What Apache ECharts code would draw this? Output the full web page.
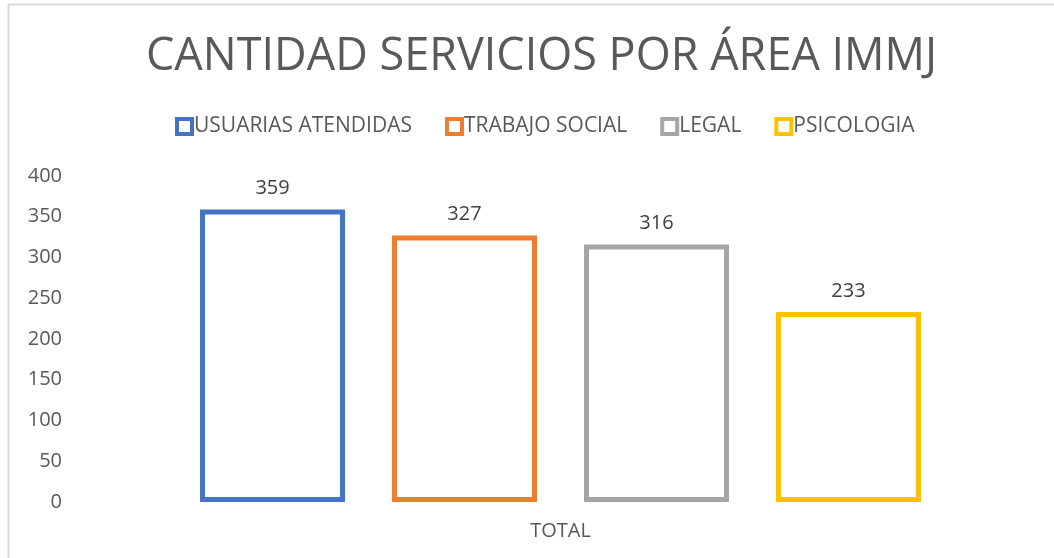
<!DOCTYPE html>
<html>
<head>
<meta charset="utf-8">
<script src="https://cdn.jsdelivr.net/npm/echarts@6/dist/echarts.min.js"></script>
<style>
  html, body { margin: 0; padding: 0; background: #fff; }
  #chart { width: 1054px; height: 558px; }
</style>
</head>
<body>
<div id="chart"></div>
<script>
const categories = ['TOTAL'];
const seriesNames = ['USUARIAS ATENDIDAS', 'TRABAJO SOCIAL', 'LEGAL', 'PSICOLOGIA'];
const seriesValues = [[359], [327], [316], [233]];
const colors = ['#4472C4', '#ED7D31', '#A5A5A5', '#FFC000'];

const font = '"Open Sans", "Noto Sans", sans-serif';
const myChart = echarts.init(document.getElementById('chart'));

const series = seriesNames.map((name, i) => ({
  name,
  type: 'bar',
  data: seriesValues[i],
  barWidth: 145,
  barGap: '32.4%',
  itemStyle: {
    color: '#fff',
    borderColor: colors[i],
    borderWidth: 5,
  },
  label: {
    show: true,
    position: 'top',
    distance: 11,
    color: '#404040',
    fontSize: 20,
    fontFamily: font,
  },
}));

const option = {
  animation: false,
  graphic: [
    {
      type: 'rect',
      shape: { x: 8.5, y: 4.5, width: 1100, height: 600 },
      style: { fill: 'none', stroke: '#d9d9d9', lineWidth: 2 },
      silent: true,
    },
  ],
  title: {
    text: 'CANTIDAD SERVICIOS POR ÁREA IMMJ',
    left: 141,
    top: 30,
    textStyle: {
      fontSize: 45,
      fontWeight: 'normal',
      color: '#595959',
      fontFamily: font,
    },
  },
  legend: {
    top: 111,
    left: 170,
    itemWidth: 15,
    itemHeight: 15,
    itemGap: 33,
    icon: 'rect',
    textStyle: {
      fontSize: 21,
      color: '#595959',
      fontFamily: font,
      padding: [0, 0, 0, -3],
    },
    data: seriesNames.map((name, i) => ({
      name,
      itemStyle: { color: '#fff', borderColor: colors[i], borderWidth: 4 },
    })),
  },
  grid: {
    left: 75,
    right: 8,
    top: 176,
    bottom: 56,
    containLabel: false,
  },
  xAxis: {
    type: 'category',
    data: categories,
    axisLine: { show: false },
    axisTick: { show: false },
    axisLabel: {
      margin: 19,
      fontSize: 20,
      color: '#595959',
      fontFamily: font,
    },
  },
  yAxis: {
    type: 'value',
    min: 0,
    max: 400,
    interval: 50,
    splitLine: { show: false },
    axisLine: { show: false },
    axisTick: { show: false },
    axisLabel: {
      margin: 13,
      fontSize: 20,
      color: '#595959',
      fontFamily: font,
    },
  },
  series,
};

myChart.setOption(option);
</script>
</body>
</html>
